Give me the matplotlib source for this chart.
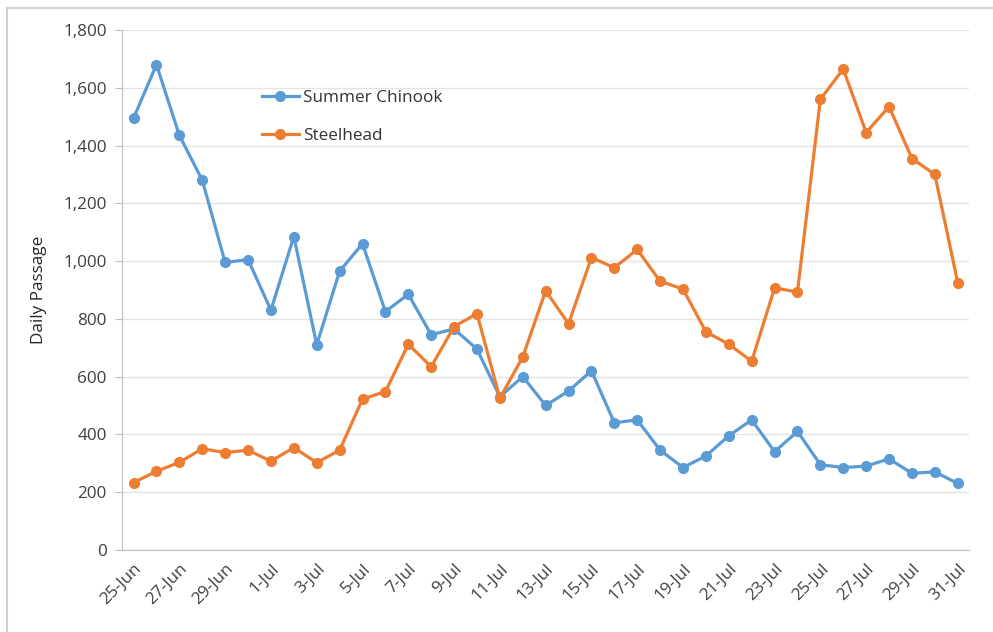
import numpy as np
import matplotlib.pyplot as plt
from matplotlib.lines import Line2D

plt.rcParams['font.family'] = ['Open Sans', 'DejaVu Sans']

# daily counts, 25-Jun through 31-Jul
days_jun = list(range(25, 31))
days_jul = list(range(1, 32))
dates = [f'{d}-Jun' for d in days_jun] + [f'{d}-Jul' for d in days_jul]

chinook = [1495, 1680, 1435, 1280, 995, 1005, 830, 1085, 710, 965,
           1060, 825, 885, 745, 765, 695, 530, 600, 500, 550,
           620, 440, 450, 345, 285, 325, 395, 450, 340, 410,
           295, 285, 290, 315, 265, 270, 230]
steelhead = [233, 272, 303, 350, 337, 345, 307, 354, 302, 345,
             522, 548, 712, 634, 773, 818, 525, 668, 897, 783,
             1012, 977, 1040, 930, 903, 755, 712, 653, 907, 893,
             1560, 1665, 1445, 1535, 1355, 1300, 925]

BLUE = '#5B9BD5'
ORANGE = '#ED7D31'
FS = 12.3

fig = plt.figure(figsize=(9.93, 6.32), dpi=100)
ax = fig.add_axes([0.123, 0.130, 0.853, 0.8225])

x = np.arange(len(dates))
ax.plot(x, chinook, '-o', color=BLUE, lw=2.3, ms=7, label='Summer Chinook', zorder=3)
ax.plot(x, steelhead, '-o', color=ORANGE, lw=2.3, ms=7, label='Steelhead', zorder=3)

ax.set_xlim(-0.5, len(dates) - 0.5)
ax.set_ylim(0, 1800)
ax.set_yticks(np.arange(0, 1801, 200))
ax.yaxis.set_major_formatter(plt.FuncFormatter(lambda v, p: f'{v:,.0f}'))
ax.set_xticks(x[::2])
ax.set_xticklabels(dates[::2], rotation=45, ha='right', rotation_mode='anchor')
ax.grid(axis='y', color='#e3e3e3', lw=1)
ax.set_axisbelow(True)

for side in ['top', 'right']:
    ax.spines[side].set_visible(False)
for side in ['left', 'bottom']:
    ax.spines[side].set_color('#bfbfbf')
ax.tick_params(axis='y', length=5, color='#bfbfbf', labelsize=FS, labelcolor='#404040', pad=6)
ax.tick_params(axis='x', length=0, labelsize=FS, labelcolor='#404040', pad=8)
ax.set_ylabel('Daily Passage', fontsize=FS, color='#262626', labelpad=12)

ax.legend(loc='upper left', bbox_to_anchor=(0.248, 0.882), bbox_transform=fig.transFigure,
          frameon=False, fontsize=FS, labelspacing=1.3, handlelength=2.2,
          handletextpad=0.2, labelcolor='#333333')

# thin outer frame
fig.add_artist(Line2D([7 / 993, 7 / 993], [0, 1 - 8 / 632], color='#d0d0d0', lw=1.5,
                      transform=fig.transFigure))
fig.add_artist(Line2D([7 / 993, 1], [1 - 8 / 632, 1 - 8 / 632], color='#d0d0d0', lw=1.5,
                      transform=fig.transFigure))

fig.savefig('out.png', dpi=100)
